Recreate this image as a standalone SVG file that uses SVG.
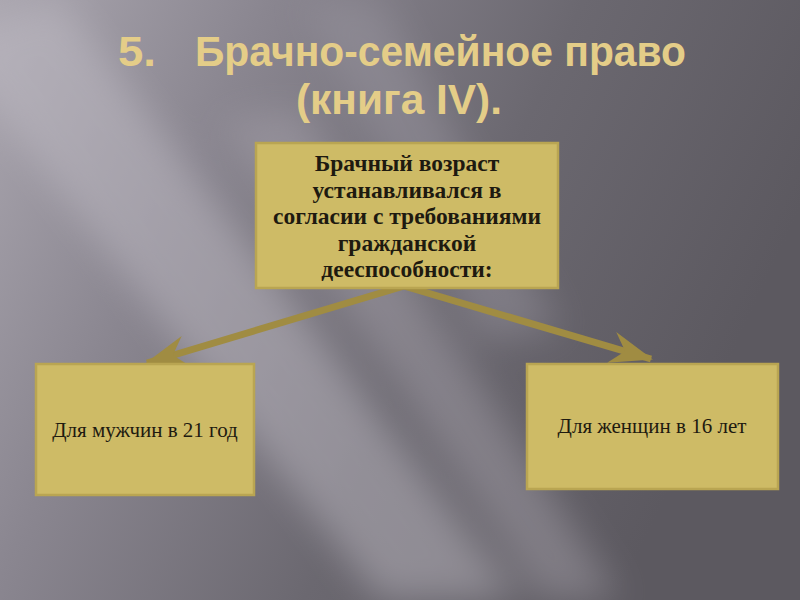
<svg xmlns="http://www.w3.org/2000/svg" width="800" height="600" viewBox="0 0 800 600">
  <defs>
    <linearGradient id="bg" x1="0" y1="0" x2="1" y2="0.35">
      <stop offset="0" stop-color="#aaa6af"/>
      <stop offset="0.3" stop-color="#8a8690"/>
      <stop offset="0.65" stop-color="#6b6870"/>
      <stop offset="1" stop-color="#5c5960"/>
    </linearGradient>
    <filter id="blur" x="-50%" y="-50%" width="200%" height="200%">
      <feGaussianBlur stdDeviation="18"/>
    </filter>
    <marker id="head" viewBox="-46 -20 50 40" refX="0" refY="0" markerWidth="50" markerHeight="40" markerUnits="userSpaceOnUse" orient="auto">
      <path d="M2,0 L-41,-16 L-27,0 L-41,16 Z" fill="#a08c42"/>
    </marker>
    <style>
      .title { font-family: "Liberation Sans", Arial, sans-serif; font-weight: bold; font-size: 42px; fill: #e4cd88; }
      .box { fill: #cebb66; stroke: #b9a552; stroke-width: 2.5; }
      .main { font-family: "Liberation Serif", "Times New Roman", serif; font-weight: bold; font-size: 23.5px; fill: #1e1a10; text-anchor: middle; }
      .sub { font-family: "Liberation Serif", "Times New Roman", serif; font-size: 21px; fill: #1e1a10; text-anchor: middle; }
      .conn { stroke: #a08c42; stroke-width: 7; fill: none; }
    </style>
  </defs>

  <rect x="0" y="0" width="800" height="600" fill="url(#bg)"/>
  <g filter="url(#blur)" opacity="0.45">
    <polygon points="-60,40 60,0 520,600 380,600" fill="#c3bfc8"/>
    <polygon points="220,120 300,110 620,600 540,600" fill="#a7a3ac"/>
    <polygon points="300,0 380,0 560,330 480,340" fill="#9a96a0"/>
  </g>

  <g id="title">
    <text class="title" x="118" y="66" textLength="38" lengthAdjust="spacingAndGlyphs">5.</text>
    <text class="title" x="195" y="66" textLength="491" lengthAdjust="spacingAndGlyphs">Брачно-семейное право</text>
    <text class="title" x="296" y="114" textLength="206" lengthAdjust="spacingAndGlyphs">(книга IV).</text>
  </g>

  <g id="connectors">
    <line class="conn" x1="404" y1="286" x2="147" y2="363" marker-end="url(#head)"/>
    <line class="conn" x1="404" y1="286" x2="651" y2="359" marker-end="url(#head)"/>
  </g>

  <g id="node-main">
    <rect class="box" x="256" y="143" width="302" height="145"/>
    <text class="main" x="407" y="171">Брачный возраст</text>
    <text class="main" x="407" y="198">устанавливался в</text>
    <text class="main" x="407" y="224">согласии с требованиями</text>
    <text class="main" x="407" y="251">гражданской</text>
    <text class="main" x="407" y="277">дееспособности:</text>
  </g>

  <g id="node-men">
    <rect class="box" x="36" y="364" width="218" height="131"/>
    <text class="sub" x="145" y="437">Для мужчин в 21 год</text>
  </g>

  <g id="node-women">
    <rect class="box" x="527" y="364" width="251" height="125"/>
    <text class="sub" x="652" y="433">Для женщин в 16 лет</text>
  </g>
</svg>
